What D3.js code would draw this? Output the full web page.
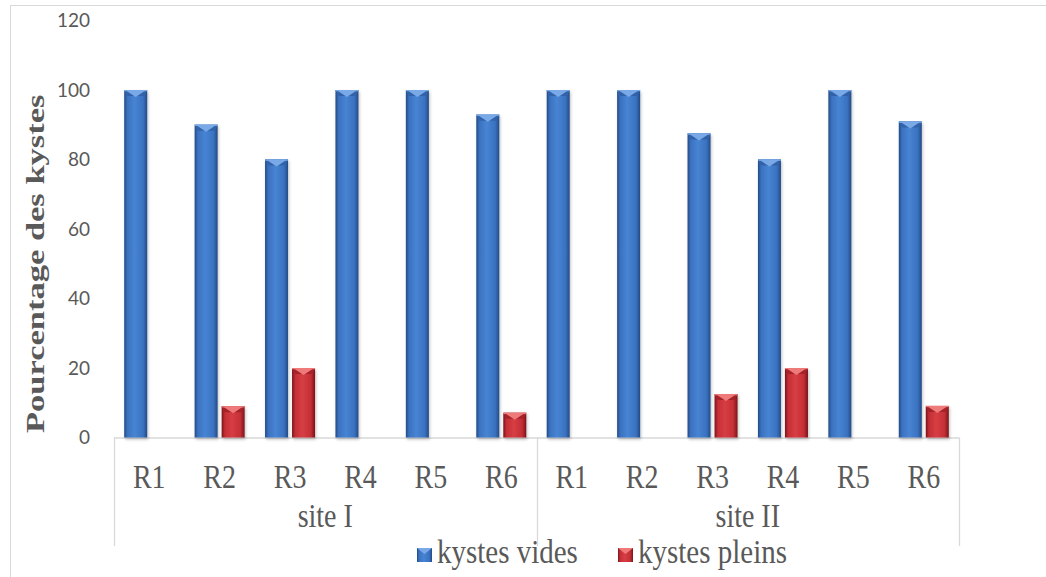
<!DOCTYPE html>
<html>
<head>
<meta charset="utf-8">
<script src="https://cdn.jsdelivr.net/npm/d3@7"></script>
<style>
  html, body { margin: 0; padding: 0; background: #fff; }
  svg { display: block; }
</style>
</head>
<body>
<svg id="chart" width="1046" height="577"></svg>
<script>
// Survey data: share of empty vs. full cysts per sample (R1..R6) at two sites
const sites = ["site I", "site II"];
const samples = ["R1", "R2", "R3", "R4", "R5", "R6"];
const seriesNames = ["kystes vides", "kystes pleins"];
const videsSiteI  = [100, 90, 80, 100, 100, 92.9];
const pleinsSiteI = [0, 9, 20, 0, 0, 7.1];
const videsSiteII  = [100, 100, 87.5, 80, 100, 90.9];
const pleinsSiteII = [0, 0, 12.5, 20, 0, 9.1];
const yTicks = [0, 20, 40, 60, 80, 100, 120];

const rows = [];
[[videsSiteI, pleinsSiteI], [videsSiteII, pleinsSiteII]].forEach(([v, p], si) => {
  samples.forEach((s, i) => {
    rows.push({ site: sites[si], sample: s, key: sites[si] + "|" + s, values: [v[i], p[i]] });
  });
});

const svg = d3.select("#chart");
const W = 1046, H = 577;
const plot = { left: 114, right: 959, top: 20.5, bottom: 437.5 };

const grayText = "#595959";
const axisGray = "#d9d9d9";
const serif = "'Liberation Serif', 'Times New Roman', serif";
const tall = 1.18;      // vertical stretch of the serif labels

// Outer chart frame
svg.append("rect")
  .attr("x", 10.5).attr("y", 5.5)
  .attr("width", W + 20).attr("height", H + 20)
  .attr("fill", "#fff").attr("stroke", "#d9d9d9").attr("stroke-width", 1);

const x0 = d3.scaleBand().domain(rows.map(r => r.key)).range([plot.left, plot.right]).padding(0);
const x1 = d3.scaleBand().domain(seriesNames).range([0, x0.bandwidth()])
  .paddingInner(4 / 27).paddingOuter(0.378);
const y = d3.scaleLinear().domain([0, 120]).range([plot.bottom, plot.top]);

// Gradients for the beveled bar look
const defs = svg.append("defs");
const palettes = [
  { id: "blue", edge: "#234a85", mid: "#3a72c0", light: "#4784d3", top: "#7aa9e8", topDark: "#3264aa" },
  { id: "red",  edge: "#78141a", mid: "#c42e35", light: "#d63e44", top: "#ee7a7a", topDark: "#a6232a" }
];
palettes.forEach(p => {
  const g = defs.append("linearGradient").attr("id", "grad-" + p.id)
    .attr("x1", "0%").attr("x2", "100%").attr("y1", "0%").attr("y2", "0%");
  g.append("stop").attr("offset", "0%").attr("stop-color", p.edge);
  g.append("stop").attr("offset", "14%").attr("stop-color", p.mid);
  g.append("stop").attr("offset", "45%").attr("stop-color", p.light);
  g.append("stop").attr("offset", "82%").attr("stop-color", p.mid);
  g.append("stop").attr("offset", "100%").attr("stop-color", p.edge);
});
const shadow = defs.append("filter").attr("id", "shadow")
  .attr("x", "-30%").attr("y", "-10%").attr("width", "160%").attr("height", "130%");
shadow.append("feGaussianBlur").attr("in", "SourceAlpha").attr("stdDeviation", 1.6).attr("result", "b");
shadow.append("feOffset").attr("in", "b").attr("dx", 1).attr("dy", 1.5).attr("result", "o");
shadow.append("feComponentTransfer").attr("in", "o").attr("result", "s")
  .append("feFuncA").attr("type", "linear").attr("slope", 0.25);
const merge = shadow.append("feMerge");
merge.append("feMergeNode").attr("in", "s");
merge.append("feMergeNode").attr("in", "SourceGraphic");

// Category axis lines
svg.append("line")
  .attr("x1", plot.left).attr("x2", plot.right)
  .attr("y1", plot.bottom + 0.5).attr("y2", plot.bottom + 0.5)
  .attr("stroke", axisGray).attr("stroke-width", 1.3);
const sepX = [x0(rows[0].key), x0(rows[6].key), x0(rows[11].key) + x0.bandwidth()];
svg.selectAll("line.sep").data(sepX).enter().append("line")
  .attr("class", "sep")
  .attr("x1", d => Math.round(d) + 0.5).attr("x2", d => Math.round(d) + 0.5)
  .attr("y1", plot.bottom).attr("y2", 546)
  .attr("stroke", axisGray).attr("stroke-width", 1.3);

// Y tick labels
svg.selectAll("text.ytick").data(yTicks).enter().append("text")
  .attr("class", "ytick")
  .attr("x", 90).attr("y", d => y(d))
  .attr("dy", "0.35em")
  .attr("text-anchor", "end")
  .attr("font-family", "Lato, 'Open Sans', sans-serif")
  .attr("font-size", 19)
  .attr("fill", grayText)
  .text(d => d);

// Y axis title
svg.append("text")
  .attr("transform", `translate(44, ${(y(0) + y(100)) / 2}) rotate(-90) scale(1.38, 1)`)
  .attr("text-anchor", "middle")
  .attr("font-family", serif)
  .attr("font-weight", "bold")
  .attr("font-size", 25)
  .attr("fill", grayText)
  .text("Pourcentage des kystes");

// Bars
const bars = [];
rows.forEach(r => r.values.forEach((v, i) => {
  if (v > 0) bars.push({ key: r.key, series: seriesNames[i], pal: palettes[i], value: v });
}));

const g = svg.selectAll("g.bar").data(bars).enter().append("g")
  .attr("class", "bar")
  .attr("filter", "url(#shadow)");

g.append("rect")
  .attr("x", d => x0(d.key) + x1(d.series))
  .attr("y", d => y(d.value))
  .attr("width", x1.bandwidth())
  .attr("height", d => y(0) - y(d.value))
  .attr("fill", d => `url(#grad-${d.pal.id})`);

// Top bevel: dark corners with a light wedge in the middle
g.append("path")
  .attr("d", d => {
    const xl = x0(d.key) + x1(d.series), w = x1.bandwidth(), yt = y(d.value);
    const h = Math.min(6, y(0) - yt);
    return `M${xl},${yt}H${xl + w}L${xl + w - 3},${yt + h}H${xl + 3}Z`;
  })
  .attr("fill", d => d.pal.topDark);
g.append("path")
  .attr("d", d => {
    const xl = x0(d.key) + x1(d.series), w = x1.bandwidth(), yt = y(d.value);
    const h = Math.min(7, y(0) - yt);
    return `M${xl + 1},${yt}H${xl + w - 1}L${xl + w / 2},${yt + h}Z`;
  })
  .attr("fill", d => d.pal.top);
g.append("rect")
  .attr("x", d => x0(d.key) + x1(d.series))
  .attr("y", d => y(d.value))
  .attr("width", x1.bandwidth())
  .attr("height", 1.2)
  .attr("fill", d => d.pal.top);

// Sample labels
svg.selectAll("text.sample").data(rows).enter().append("text")
  .attr("class", "sample")
  .attr("transform", d => `translate(${x0(d.key) + x0.bandwidth() / 2}, 488) scale(1, ${tall})`)
  .attr("text-anchor", "middle")
  .attr("font-family", serif)
  .attr("font-size", 28)
  .attr("fill", grayText)
  .text(d => d.sample);

// Site labels
svg.selectAll("text.site").data(sites).enter().append("text")
  .attr("class", "site")
  .attr("transform", (d, i) => `translate(${(sepX[i] + sepX[i + 1]) / 2}, 527) scale(1, ${tall})`)
  .attr("text-anchor", "middle")
  .attr("font-family", serif)
  .attr("font-size", 28)
  .attr("fill", grayText)
  .text(d => d);

// Legend
const legendX = [417, 618];
const lg = svg.selectAll("g.legend").data(seriesNames).enter().append("g")
  .attr("class", "legend")
  .attr("transform", (d, i) => `translate(${legendX[i]}, 548)`);
lg.append("rect").attr("width", 15).attr("height", 14)
  .attr("fill", (d, i) => `url(#grad-${palettes[i].id})`);
lg.append("path").attr("d", "M0,0H15L7.5,6Z").attr("fill", (d, i) => palettes[i].top);
lg.append("text")
  .attr("transform", `translate(20, 15) scale(1, ${tall})`)
  .attr("font-family", serif)
  .attr("font-size", 29)
  .attr("fill", grayText)
  .text(d => d);
</script>
</body>
</html>
